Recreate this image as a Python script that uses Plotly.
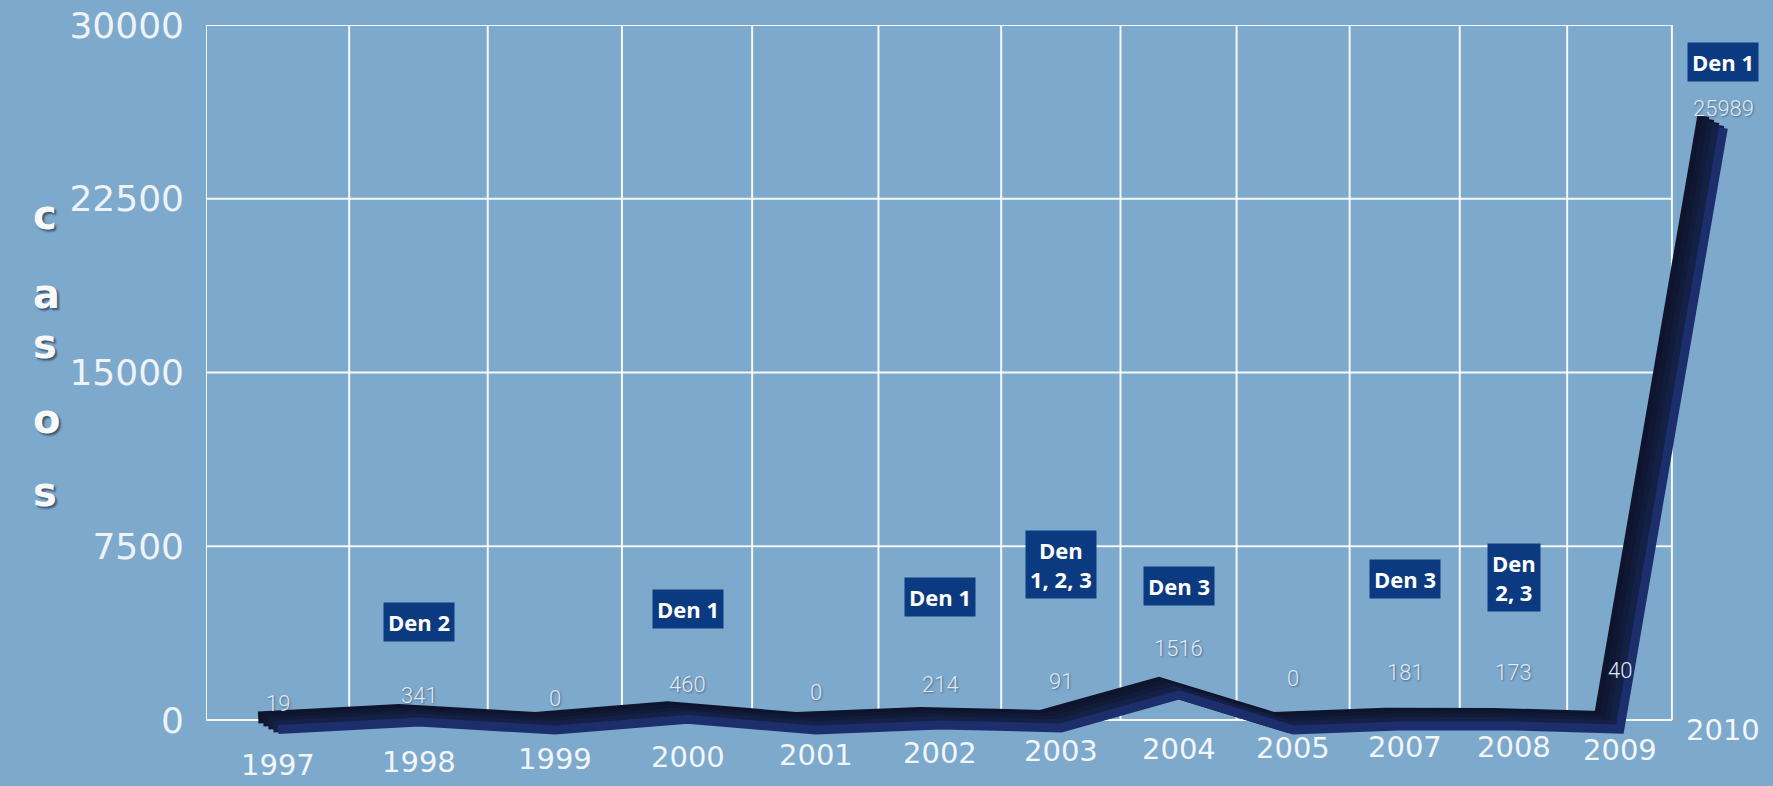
import math
import plotly.graph_objects as go

# ---------------- data ----------------
years = ["1997", "1998", "1999", "2000", "2001", "2002", "2003",
         "2004", "2005", "2007", "2008", "2009", "2010"]
cases = [19, 341, 0, 460, 0, 214, 91, 1516, 0, 181, 173, 40, 25989]
serotype_years = ["1998", "2000", "2002", "2003", "2004", "2007", "2008", "2010"]
serotype_labels = ["Den 2", "Den 1", "Den 1", "Den<br>1, 2, 3", "Den 3",
                   "Den 3", "Den<br>2, 3", "Den 1"]
y_ticks = [0, 7500, 15000, 22500, 30000]
y_title_letters = ["c", "a", "s", "o", "s"]

# ---------------- placement (pixels from top of the picture) ----------------
value_label_px = [703, 695, 698, 684, 692, 684, 681, 648, 678, 672, 672, 670, 108]
serotype_label_px = [622, 609, 597, 564, 586, 579, 577, 62]
year_label_px = [765, 762, 759, 757, 755, 753, 751, 749, 748, 747, 747, 750, 730]
title_letter_px = [190, 269, 344, 419, 492]

W, H = 1773, 786
MT = 25                      # 30000 line
ZERO_PX = 720                # 0 line
px_per_y = (ZERO_PX - MT) / y_ticks[-1]
Y_RANGE = [-(H - ZERO_PX) / px_per_y, y_ticks[-1]]

# perspective-like category spacing: log axis on (index + PERSP)
PERSP = 30
X0_PX = 278
K = 4295.0
LN10 = math.log(10)
x_lo = PERSP - 0.5
ML = round(X0_PX + K * math.log(x_lo / PERSP))
X_RANGE = [math.log10(x_lo), math.log10(x_lo) + (W - ML) / (K * LN10)]

BG = "#7da9cc"
xpos = [i + PERSP for i in range(len(years))]
pos = {y: p for y, p in zip(years, xpos)}


def px_to_y(p):
    return (ZERO_PX - p) / px_per_y


fig = go.Figure()

# white grid over the cells
gx, gy = [], []
for yv in y_ticks:
    gx += [x_lo, xpos[-1] - 0.5, None]
    gy += [yv, yv, None]
for p in xpos:
    gx += [p - 0.5, p - 0.5, None]
    gy += [0, y_ticks[-1], None]
fig.add_trace(go.Scatter(x=gx, y=gy, mode="lines", line=dict(color="rgba(255,255,255,0.92)", width=2),
                         hoverinfo="skip", showlegend=False))

# ribbon: copies of the same series on shifted overlay axes (extruded look)
ribbon = [(-20, -2, "#0d142c", 12), (-15, 1, "#0f1732", 12), (-10, 4, "#111b3a", 12),
          (-5, 7, "#142045", 12), (0, 10, "#1c2f6c", 9)]
layout_axes = {}
for k, (dx, dy, col, w) in enumerate(ribbon, start=2):
    xs = dx / (K * LN10)
    ys = dy / px_per_y
    layout_axes[f"xaxis{k}"] = dict(overlaying="x", type="log",
                                    range=[X_RANGE[0] - xs, X_RANGE[1] - xs],
                                    visible=False, fixedrange=True)
    layout_axes[f"yaxis{k}"] = dict(overlaying="y", range=[Y_RANGE[0] + ys, Y_RANGE[1] + ys],
                                    visible=False, fixedrange=True)
    fig.add_trace(go.Scatter(x=xpos, y=cases, mode="lines", xaxis=f"x{k}", yaxis=f"y{k}",
                             line=dict(color=col, width=w), hoverinfo="skip", showlegend=False))

annotations = []
# value labels
for p, v, lp in zip(xpos, cases, value_label_px):
    annotations.append(dict(x=math.log10(p), y=px_to_y(lp), xref="x", yref="y", text=str(v),
                            showarrow=False,
                            font=dict(family="Roboto, sans-serif", size=22, weight=300,
                                      color="#e2e9ef", shadow="1px 1px 2px rgba(30,50,80,0.55)")))
# serotype boxes
for yr, lab, lp in zip(serotype_years, serotype_labels, serotype_label_px):
    annotations.append(dict(x=math.log10(pos[yr]), y=px_to_y(lp), xref="x", yref="y",
                            text=f"<b>{lab}</b>", showarrow=False, bgcolor="#0c3a80",
                            borderpad=4, align="center",
                            font=dict(family="Open Sans, sans-serif", size=22, color="#ffffff")))
# year labels
for p, yr, lp in zip(xpos, years, year_label_px):
    annotations.append(dict(x=math.log10(p), y=px_to_y(lp), xref="x", yref="y", text=yr,
                            showarrow=False,
                            font=dict(family="DejaVu Sans, sans-serif", size=29, color="#f2f6f9")))
# vertical axis title "casos"
plot_h = H - MT
for ch, lp in zip(y_title_letters, title_letter_px):
    annotations.append(dict(x=(31 - ML) / (W - ML), y=(H - lp) / plot_h, xref="paper", yref="paper",
                            text=f"<b>{ch}</b>", showarrow=False,
                            font=dict(family="DejaVu Sans, sans-serif", size=40, color="#f7f9fb",
                                      shadow="2px 2px 2px rgba(20,30,50,0.6)")))

fig.update_layout(
    width=W, height=H,
    margin=dict(l=ML, r=0, t=MT, b=0, pad=0),
    paper_bgcolor=BG, plot_bgcolor=BG,
    showlegend=False,
    xaxis=dict(type="log", range=X_RANGE, showgrid=False, zeroline=False, showticklabels=False,
               showline=False, ticks="", fixedrange=True),
    yaxis=dict(range=Y_RANGE, showgrid=False, zeroline=False, showline=False,
               tickvals=y_ticks, ticktext=[str(t) for t in y_ticks], ticks="",
               ticklabelstandoff=21,
               tickfont=dict(family="DejaVu Sans, sans-serif", size=36, color="#eef3f7"),
               fixedrange=True),
    annotations=annotations,
    **layout_axes,
)

fig.write_html("out.html", config={"displayModeBar": False},
               post_script="document.body.style.margin='0';")
